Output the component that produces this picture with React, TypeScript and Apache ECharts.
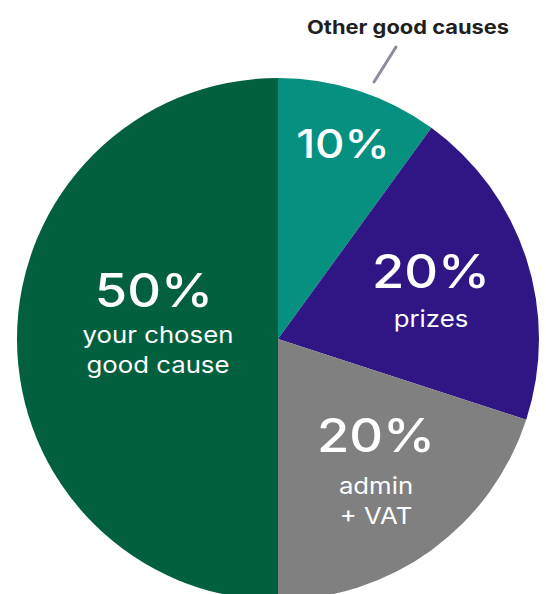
import React, { useEffect, useRef } from "react";
import * as echarts from "echarts";

const categories = ["Other good causes", "prizes", "admin + VAT", "your chosen good cause"];
const values = [10, 20, 20, 50];
const sliceColors = ["#05907F", "#2F1684", "#808080", "#03603F"];
const subLabels = [[], ["prizes"], ["admin", "+ VAT"], ["your chosen", "good cause"]];
const outsideLabel = "Other good causes";

// text layout (pixel anchors for each slice's label block)
const labelLayout = [
  { x: 343, y: 143, size: 40, subSize: 23, gap: 0 },
  { x: 431, y: 271, size: 46, subSize: 23, gap: 48 },
  { x: 376, y: 435, size: 46, subSize: 23, gap: 51 },
  { x: 154, y: 290, size: 46, subSize: 23, gap: 45 },
];

const CX = 278;
const CY = 339;
const R = 261;
const FONT = "Inter, 'Noto Sans', sans-serif";
const NUM_STRETCH = 1.14;
const SUB_STRETCH = 1.12;

export default function App() {
  const ref = useRef<HTMLDivElement>(null);
  useEffect(() => {
    if (!ref.current) return;
    const chart = echarts.init(ref.current, undefined, { renderer: "svg" });
    const graphics: any[] = [];
    values.forEach((v, i) => {
      const L = labelLayout[i];
      graphics.push({
        type: "text",
        z: 100,
        x: L.x,
        y: L.y,
        scaleX: NUM_STRETCH,
        style: {
          text: `${v}%`,
          fill: "#ffffff",
          font: `500 ${L.size}px ${FONT}`,
          textAlign: "center",
          textVerticalAlign: "middle",
        },
      });
      subLabels[i].forEach((s, j) => {
        graphics.push({
          type: "text",
          z: 100,
          x: L.x + (i === 3 ? 4 : 0),
          y: L.y + L.gap + j * 30,
          scaleX: SUB_STRETCH,
          style: {
            text: s,
            fill: "#ffffff",
            font: `400 ${L.subSize}px ${FONT}`,
            textAlign: "center",
            textVerticalAlign: "middle",
          },
        });
      });
    });
    graphics.push({
      type: "line",
      z: 100,
      shape: { x1: 374, y1: 82, x2: 396, y2: 47 },
      style: { stroke: "#8C8C9E", lineWidth: 3, lineCap: "round" },
    });
    graphics.push({
      type: "text",
      z: 100,
      x: 408,
      y: 27,
      scaleX: 1.15,
      style: {
        text: outsideLabel,
        fill: "#1f1f1f",
        font: `700 19px ${FONT}`,
        textAlign: "center",
        textVerticalAlign: "middle",
      },
    });
    chart.setOption({
      animation: false,
      backgroundColor: "#ffffff",
      series: [
        {
          type: "pie",
          center: [CX, CY],
          radius: [0, R],
          startAngle: 90,
          clockwise: true,
          label: { show: false },
          labelLine: { show: false },
          emphasis: { disabled: true },
          itemStyle: { borderWidth: 0 },
          data: values.map((v, i) => ({
            name: categories[i],
            value: v,
            itemStyle: { color: sliceColors[i] },
          })),
        },
      ],
      graphic: graphics,
    });
    return () => chart.dispose();
  }, []);
  return (
    <div
      ref={ref}
      style={{ position: "absolute", left: 0, top: 0, width: 546, height: 594 }}
    />
  );
}
